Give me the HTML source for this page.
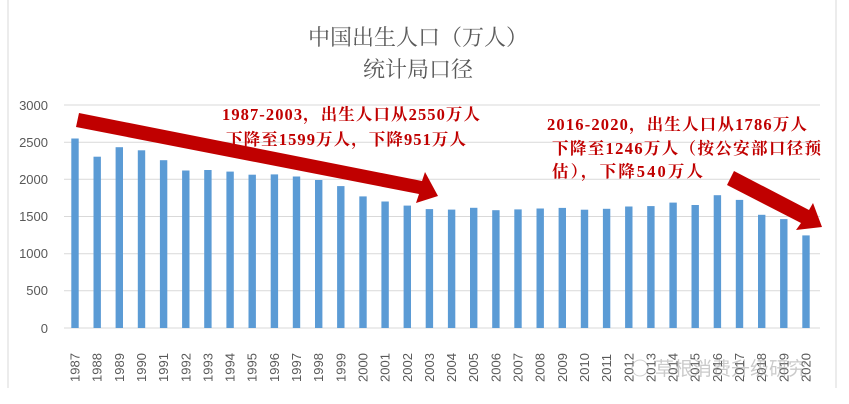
<!DOCTYPE html>
<html><head><meta charset="utf-8"><style>
body{margin:0;background:#fff;}
svg{display:block;font-family:"Liberation Sans","Noto Sans CJK SC",sans-serif;}
</style></head><body>
<svg width="849" height="404" viewBox="0 0 849 404">
<rect width="849" height="404" fill="#fff"/>
<line x1="8" y1="0" x2="8" y2="388" stroke="#d9d9d9"/>
<line x1="836" y1="0" x2="836" y2="388" stroke="#d9d9d9"/>
<g font-family="'Liberation Serif','Noto Serif CJK SC',serif" font-size="22" fill="#595959" text-anchor="middle">
<text x="418" y="45">中国出生人口（万人）</text>
<text x="418" y="77">统计局口径</text>
</g>
<g stroke="#d9d9d9" stroke-width="1">
<line x1="64" y1="105" x2="820" y2="105"/>
<line x1="64" y1="142.2" x2="820" y2="142.2"/>
<line x1="64" y1="179.3" x2="820" y2="179.3"/>
<line x1="64" y1="216.5" x2="820" y2="216.5"/>
<line x1="64" y1="253.7" x2="820" y2="253.7"/>
<line x1="64" y1="290.8" x2="820" y2="290.8"/>
<line x1="64" y1="328" x2="820" y2="328"/>
</g>
<g font-size="13" fill="#595959" text-anchor="end">
<text x="48" y="110">3000</text><text x="48" y="147">2500</text><text x="48" y="184">2000</text>
<text x="48" y="221">1500</text><text x="48" y="258">1000</text><text x="48" y="295">500</text><text x="48" y="333">0</text>
</g>
<g fill="#5b9bd5">
<rect x="71.3" y="138.5" width="7.4" height="189.5"/>
<rect x="93.5" y="156.7" width="7.4" height="171.3"/>
<rect x="115.6" y="147.2" width="7.4" height="180.8"/>
<rect x="137.8" y="150.3" width="7.4" height="177.7"/>
<rect x="159.9" y="160.2" width="7.4" height="167.8"/>
<rect x="182.1" y="170.5" width="7.4" height="157.5"/>
<rect x="204.2" y="170.0" width="7.4" height="158.0"/>
<rect x="226.4" y="171.6" width="7.4" height="156.4"/>
<rect x="248.5" y="174.7" width="7.4" height="153.3"/>
<rect x="270.7" y="174.4" width="7.4" height="153.6"/>
<rect x="292.8" y="176.5" width="7.4" height="151.5"/>
<rect x="315.0" y="180.0" width="7.4" height="148.0"/>
<rect x="337.1" y="186.1" width="7.4" height="141.9"/>
<rect x="359.3" y="196.4" width="7.4" height="131.6"/>
<rect x="381.4" y="201.5" width="7.4" height="126.5"/>
<rect x="403.6" y="205.6" width="7.4" height="122.4"/>
<rect x="425.7" y="209.1" width="7.4" height="118.9"/>
<rect x="447.9" y="209.6" width="7.4" height="118.4"/>
<rect x="470.0" y="207.8" width="7.4" height="120.2"/>
<rect x="492.2" y="210.2" width="7.4" height="117.8"/>
<rect x="514.3" y="209.4" width="7.4" height="118.6"/>
<rect x="536.5" y="208.5" width="7.4" height="119.5"/>
<rect x="558.6" y="207.9" width="7.4" height="120.1"/>
<rect x="580.8" y="209.7" width="7.4" height="118.3"/>
<rect x="602.9" y="208.8" width="7.4" height="119.2"/>
<rect x="625.1" y="206.5" width="7.4" height="121.5"/>
<rect x="647.2" y="206.1" width="7.4" height="121.9"/>
<rect x="669.4" y="202.6" width="7.4" height="125.4"/>
<rect x="691.5" y="205.0" width="7.4" height="123.0"/>
<rect x="713.7" y="195.2" width="7.4" height="132.8"/>
<rect x="735.8" y="199.9" width="7.4" height="128.1"/>
<rect x="758.0" y="214.8" width="7.4" height="113.2"/>
<rect x="780.1" y="219.1" width="7.4" height="108.9"/>
<rect x="802.3" y="235.4" width="7.4" height="92.6"/>
</g>
<g font-size="13" fill="#595959">
<text transform="translate(79.5,382) rotate(-90)">1987</text>
<text transform="translate(101.7,382) rotate(-90)">1988</text>
<text transform="translate(123.8,382) rotate(-90)">1989</text>
<text transform="translate(146.0,382) rotate(-90)">1990</text>
<text transform="translate(168.1,382) rotate(-90)">1991</text>
<text transform="translate(190.3,382) rotate(-90)">1992</text>
<text transform="translate(212.4,382) rotate(-90)">1993</text>
<text transform="translate(234.6,382) rotate(-90)">1994</text>
<text transform="translate(256.7,382) rotate(-90)">1995</text>
<text transform="translate(278.9,382) rotate(-90)">1996</text>
<text transform="translate(301.0,382) rotate(-90)">1997</text>
<text transform="translate(323.2,382) rotate(-90)">1998</text>
<text transform="translate(345.3,382) rotate(-90)">1999</text>
<text transform="translate(367.5,382) rotate(-90)">2000</text>
<text transform="translate(389.6,382) rotate(-90)">2001</text>
<text transform="translate(411.8,382) rotate(-90)">2002</text>
<text transform="translate(433.9,382) rotate(-90)">2003</text>
<text transform="translate(456.1,382) rotate(-90)">2004</text>
<text transform="translate(478.2,382) rotate(-90)">2005</text>
<text transform="translate(500.4,382) rotate(-90)">2006</text>
<text transform="translate(522.5,382) rotate(-90)">2007</text>
<text transform="translate(544.7,382) rotate(-90)">2008</text>
<text transform="translate(566.8,382) rotate(-90)">2009</text>
<text transform="translate(589.0,382) rotate(-90)">2010</text>
<text transform="translate(611.1,382) rotate(-90)">2011</text>
<text transform="translate(633.3,382) rotate(-90)">2012</text>
<text transform="translate(655.4,382) rotate(-90)">2013</text>
<text transform="translate(677.6,382) rotate(-90)">2014</text>
<text transform="translate(699.7,382) rotate(-90)">2015</text>
<text transform="translate(721.9,382) rotate(-90)">2016</text>
<text transform="translate(744.0,382) rotate(-90)">2017</text>
<text transform="translate(766.2,382) rotate(-90)">2018</text>
<text transform="translate(788.3,382) rotate(-90)">2019</text>
<text transform="translate(810.5,382) rotate(-90)">2020</text>
</g>
<g fill="#c00000">
<polygon points="79,113 422,181 425,172 438,196 416,203 419,194 76,127"/>
<polygon points="734,171 809,210 813,203 822,227 796,230 801,223 727,185"/>
</g>
<g font-size="16.5" font-weight="bold" fill="#c00000" font-family="'Liberation Serif','Noto Serif CJK SC',serif">
<text x="222" y="120" textLength="258" lengthAdjust="spacing">1987-2003，出生人口从2550万人</text>
<text x="226" y="145" textLength="240" lengthAdjust="spacing">下降至1599万人，下降951万人</text>
<text x="547" y="130" textLength="260" lengthAdjust="spacing">2016-2020，出生人口从1786万人</text>
<text x="552" y="154" textLength="269" lengthAdjust="spacing">下降至1246万人（按公安部口径预</text>
<text x="552" y="177" textLength="151" lengthAdjust="spacing">估），下降540万人</text>
</g>
<text x="655" y="375" font-size="19" fill="#8c8c8c" opacity="0.45">草根消费升级研究</text>
<circle cx="640" cy="368" r="8" fill="none" stroke="#9a9a9a" opacity="0.45"/>
</svg>
</body></html>
